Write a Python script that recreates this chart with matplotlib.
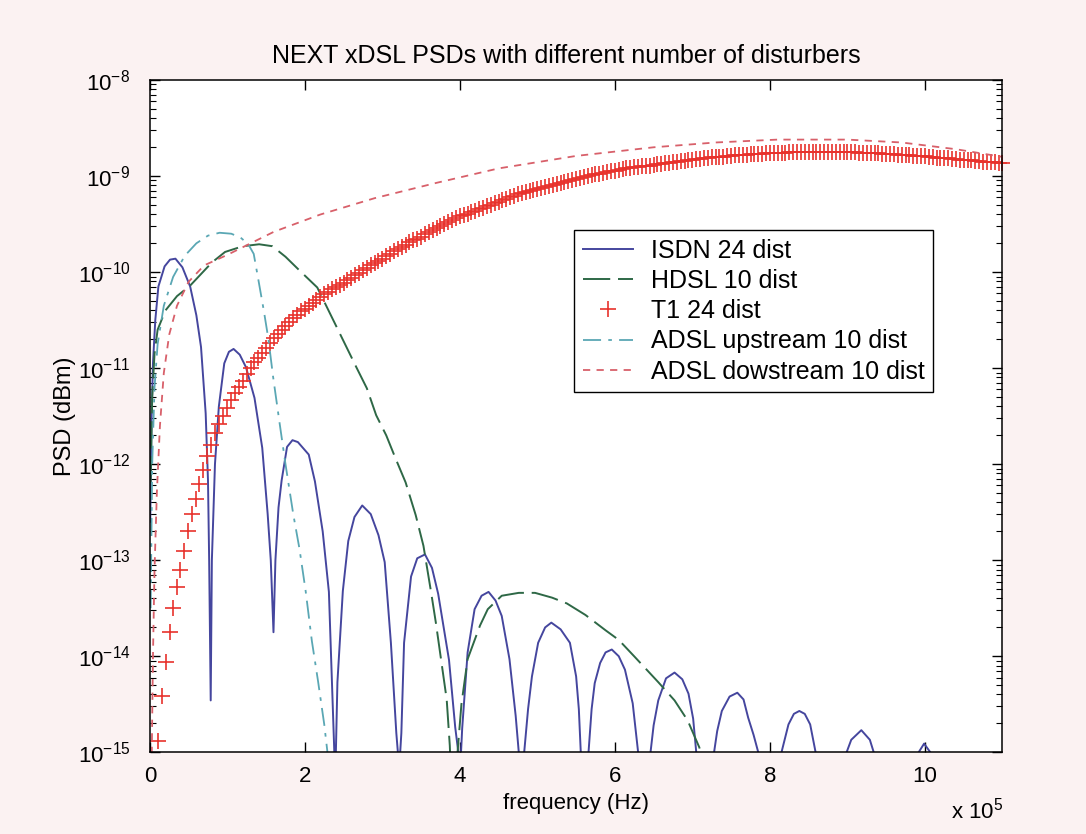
import numpy as np
import matplotlib.pyplot as plt
from matplotlib.ticker import FixedLocator, LogLocator, NullFormatter, LogFormatterMathtext

# frequencies are in units of 1e5 Hz, PSD values are stored as log10 exponents
# ISDN 24 disturbers (blue, solid)
isdn_f = [0.005, 0.02, 0.04, 0.07, 0.11, 0.19, 0.26, 0.33, 0.42, 0.52, 0.60, 0.66, 0.72, 0.75, 0.765, 0.785,
          0.80, 0.84, 0.89, 0.96, 1.02, 1.08, 1.16, 1.24, 1.35, 1.45, 1.52, 1.56, 1.595,
          1.62, 1.66, 1.70, 1.77, 1.84, 1.91, 2.05, 2.13, 2.23, 2.27, 2.31, 2.35, 2.38, 2.39,
          2.40, 2.42, 2.49, 2.56, 2.64, 2.74, 2.85, 2.95, 3.03, 3.11, 3.18, 3.20, 3.215,
          3.23, 3.245, 3.28, 3.37, 3.45, 3.55, 3.64, 3.72, 3.86, 3.94, 3.98, 4.00,
          4.015, 4.03, 4.10, 4.19, 4.28, 4.37, 4.46, 4.54, 4.64, 4.72, 4.76, 4.795,
          4.83, 4.88, 4.93, 5.01, 5.10, 5.18, 5.30, 5.42, 5.50, 5.535, 5.56, 5.60,
          5.66, 5.70, 5.74, 5.81, 5.88, 5.96, 6.05, 6.13, 6.23, 6.30, 6.38,
          6.46, 6.50, 6.56, 6.66, 6.77, 6.87, 6.95, 7.01, 7.05, 7.17,
          7.28, 7.32, 7.38, 7.48, 7.58, 7.66, 7.72, 7.79, 7.85, 8.00,
          8.15, 8.24, 8.31, 8.38, 8.45, 8.52, 8.59, 8.80,
          8.99, 9.05, 9.18, 9.29, 9.34, 9.60,
          9.92, 9.99, 10.07, 10.40, 11.00]
isdn_log = [-12.6, -11.6, -10.95, -10.5, -10.15, -9.94, -9.87, -9.86, -9.95, -10.15, -10.45, -10.78, -11.47, -12.17, -13.0, -14.46,
            -13.0, -12.0, -11.4, -10.95, -10.83, -10.80, -10.86, -10.99, -11.31, -11.83, -12.52, -13.0, -13.75,
            -13.0, -12.45, -12.17, -11.82, -11.75, -11.77, -11.90, -12.18, -12.70, -13.02, -13.33, -14.27, -15.0, -16.0,
            -15.0, -14.27, -13.32, -12.80, -12.55, -12.43, -12.52, -12.74, -13.02, -13.86, -14.80, -15.0, -16.0,
            -15.0, -14.80, -13.86, -13.17, -12.98, -12.94, -13.08, -13.35, -14.04, -14.74, -15.0, -16.0,
            -15.0, -14.75, -13.96, -13.51, -13.37, -13.33, -13.42, -13.58, -14.03, -14.62, -15.0, -16.0,
            -15.0, -14.55, -14.21, -13.86, -13.70, -13.65, -13.72, -13.86, -14.21, -14.55, -15.0, -16.0,
            -15.0, -14.55, -14.28, -14.07, -13.96, -13.93, -14.00, -14.14, -14.49, -15.0, -16.0,
            -15.0, -14.72, -14.46, -14.23, -14.17, -14.24, -14.39, -14.65, -15.0, -16.0,
            -15.0, -14.78, -14.57, -14.42, -14.38, -14.45, -14.64, -14.82, -15.0, -16.0,
            -15.0, -14.71, -14.60, -14.57, -14.60, -14.71, -15.0, -16.0,
            -15.0, -14.87, -14.77, -14.87, -15.0, -16.0,
            -15.0, -14.91, -15.0, -16.0, -16.0]

# HDSL 10 disturbers (dark green, dashed)
hdsl_f = [0.01, 0.03, 0.06, 0.10, 0.20, 0.35, 0.52, 0.80, 0.97, 1.20, 1.41, 1.58, 1.75, 1.94, 2.16, 2.33,
          2.50, 2.67, 2.80, 2.92, 3.05, 3.17, 3.30, 3.43, 3.53, 3.63, 3.69, 3.83, 3.87, 3.92,
          3.97, 4.02, 4.10, 4.26, 4.36, 4.54, 4.76, 4.97, 5.19, 5.38, 5.62, 5.88, 6.05, 6.26,
          6.56, 6.77, 6.94, 7.09, 7.20, 7.84]
hdsl_log = [-12.2, -11.3, -10.85, -10.6, -10.4, -10.25, -10.14, -9.90, -9.79, -9.73, -9.71, -9.73, -9.84, -9.99, -10.16, -10.44,
            -10.72, -11.0, -11.21, -11.49, -11.70, -11.94, -12.19, -12.53, -12.85, -13.34, -13.65, -14.45, -14.93, -16.0,
            -15.0, -14.5, -14.03, -13.68, -13.51, -13.37, -13.34, -13.34, -13.39, -13.45, -13.57, -13.73, -13.83, -14.01,
            -14.27, -14.46, -14.67, -14.95, -15.3, -17.0]

# T1 24 disturbers (red '+')
t1_f = [0.11, 0.16, 0.21, 0.26, 0.30, 0.35, 0.39, 0.44, 0.49, 0.54, 0.59, 0.64, 0.69, 0.74, 0.79, 0.84, 0.89, 0.94,
        1.00, 1.05, 1.10, 1.15, 1.20, 1.25, 1.30, 1.35, 1.40, 1.45, 1.50, 1.55, 1.60, 1.65, 1.70, 1.75, 1.80, 1.85, 1.90, 1.95,
        2.00, 2.05, 2.10, 2.15, 2.20, 2.25, 2.30, 2.35, 2.40, 2.45, 2.50, 2.55, 2.60, 2.65, 2.70, 2.75, 2.80, 2.85, 2.90, 2.95,
        3.00, 3.05, 3.10, 3.15, 3.20, 3.25, 3.30, 3.35, 3.40, 3.45, 3.50, 3.55, 3.60, 3.65, 3.70, 3.75, 3.80, 3.85, 3.90, 3.95,
        4.00, 4.05, 4.10, 4.15, 4.20, 4.25, 4.30, 4.35, 4.40, 4.45, 4.50, 4.55, 4.60, 4.65, 4.70, 4.75, 4.80, 4.85, 4.90, 4.95,
        5.00, 5.05, 5.10, 5.15, 5.20, 5.25, 5.30, 5.35, 5.40, 5.45, 5.50, 5.55, 5.60, 5.65, 5.70, 5.75, 5.80, 5.85, 5.90, 5.95,
        6.00, 6.05, 6.10, 6.15, 6.20, 6.25, 6.30, 6.35, 6.40, 6.45, 6.50, 6.55, 6.60, 6.65, 6.70, 6.75, 6.80, 6.85, 6.90, 6.95,
        7.00, 7.05, 7.10, 7.15, 7.20, 7.25, 7.30, 7.35, 7.40, 7.45, 7.50, 7.55, 7.60, 7.65, 7.70, 7.75, 7.80, 7.85, 7.90, 7.95,
        8.00, 8.05, 8.10, 8.15, 8.20, 8.25, 8.30, 8.35, 8.40, 8.45, 8.50, 8.55, 8.60, 8.65, 8.70, 8.75, 8.80, 8.85, 8.90, 8.95,
        9.00, 9.05, 9.10, 9.15, 9.20, 9.25, 9.30, 9.35, 9.40, 9.45, 9.50, 9.55, 9.60, 9.65, 9.70, 9.75, 9.80, 9.85, 9.90, 9.95,
        10.00, 10.05, 10.10, 10.15, 10.20, 10.25, 10.30, 10.35, 10.40, 10.45, 10.50, 10.55, 10.60, 10.65, 10.70, 10.75,
        10.80, 10.85, 10.90, 10.95, 11.00]
t1_log = [-14.88, -14.41, -14.06, -13.75, -13.50, -13.28, -13.10, -12.90, -12.70, -12.52, -12.36, -12.21, -12.06, -11.92,
          -11.80, -11.68, -11.58, -11.50,
          -11.41, -11.33, -11.26, -11.20, -11.13, -11.06, -11.00, -10.94, -10.89, -10.84, -10.79, -10.74, -10.69, -10.64,
          -10.60, -10.56, -10.52, -10.48, -10.45, -10.41,
          -10.38, -10.35, -10.32, -10.29, -10.26, -10.23, -10.21, -10.18, -10.16, -10.13, -10.11, -10.08, -10.06, -10.03,
          -10.01, -9.98, -9.96, -9.93, -9.91, -9.88,
          -9.86, -9.83, -9.81, -9.78, -9.76, -9.74, -9.72, -9.69, -9.67, -9.65, -9.63, -9.60, -9.58, -9.56, -9.54, -9.52,
          -9.50, -9.48, -9.46, -9.44,
          -9.42, -9.40, -9.39, -9.37, -9.36, -9.34, -9.33, -9.31, -9.30, -9.28, -9.27, -9.25, -9.24, -9.22, -9.21, -9.19,
          -9.18, -9.17, -9.16, -9.14,
          -9.13, -9.12, -9.11, -9.10, -9.09, -9.08, -9.07, -9.06, -9.05, -9.04, -9.03, -9.02, -9.01, -9.00, -8.99, -8.98,
          -8.98, -8.97, -8.96, -8.95,
          -8.95, -8.94, -8.93, -8.92, -8.92, -8.91, -8.91, -8.90, -8.89, -8.89, -8.88, -8.87, -8.87, -8.86, -8.86, -8.85,
          -8.85, -8.84, -8.84, -8.83,
          -8.83, -8.82, -8.82, -8.81, -8.81, -8.80, -8.80, -8.80, -8.80, -8.79, -8.79, -8.78, -8.78, -8.78, -8.78, -8.77,
          -8.77, -8.77, -8.77, -8.76,
          -8.76, -8.76, -8.76, -8.76, -8.76, -8.75, -8.75, -8.75, -8.75, -8.75, -8.75, -8.75, -8.75, -8.75, -8.75, -8.75,
          -8.75, -8.75, -8.75, -8.75,
          -8.75, -8.75, -8.75, -8.76, -8.76, -8.76, -8.76, -8.76, -8.76, -8.77, -8.77, -8.77, -8.77, -8.78, -8.78, -8.78,
          -8.78, -8.79, -8.79, -8.79,
          -8.79, -8.80, -8.80, -8.81, -8.81, -8.81, -8.81, -8.82, -8.82, -8.83, -8.83, -8.83, -8.83, -8.84, -8.84, -8.85,
          -8.85, -8.85, -8.85, -8.86, -8.86]

# ADSL upstream 10 disturbers (cyan, dash-dot)
adslu_f = [0.01, 0.03, 0.06, 0.10, 0.18, 0.30, 0.45, 0.60, 0.75, 0.90, 1.05, 1.17, 1.27, 1.34, 1.40, 1.47, 1.53,
           1.59, 1.67, 1.75, 1.85, 1.93, 2.01, 2.09, 2.17, 2.25, 2.29, 2.35]
adslu_log = [-13.5, -12.0, -11.2, -10.75, -10.35, -10.05, -9.83, -9.70, -9.62, -9.59, -9.60, -9.64, -9.71, -9.81, -10.08,
             -10.40, -10.70, -11.09, -11.55, -12.00, -12.52, -12.88, -13.32, -13.84, -14.26, -14.71, -14.99, -15.5]

# ADSL downstream 10 disturbers (red, dotted)
adsld_f = [0.02, 0.04, 0.06, 0.09, 0.13, 0.18, 0.25, 0.35, 0.50, 0.70, 1.0, 1.3, 1.6, 2.2, 2.9, 3.7, 4.5, 5.5, 6.5,
           7.3, 8.1, 9.0, 9.7, 10.4, 11.0]
adsld_log = [-15.3, -14.0, -13.1, -12.3, -11.6, -11.05, -10.65, -10.35, -10.10, -9.93, -9.82, -9.70, -9.58, -9.40, -9.23,
             -9.07, -8.92, -8.79, -8.70, -8.65, -8.62, -8.62, -8.65, -8.72, -8.80]

labels = ['ISDN 24 dist', 'HDSL 10 dist', 'T1 24 dist', 'ADSL upstream 10 dist', 'ADSL dowstream 10 dist']
y_decades = [1e-15, 1e-14, 1e-13, 1e-12, 1e-11, 1e-10, 1e-9, 1e-8]

plt.rcParams['font.family'] = ['Liberation Sans', 'DejaVu Sans']
plt.rcParams['mathtext.default'] = 'regular'
plt.rcParams['font.size'] = 16

fig = plt.figure(figsize=(10.86, 8.34), dpi=100, facecolor='#fbf2f2')
ax = fig.add_axes([0.138, 0.098, 0.785, 0.806])
ax.set_facecolor('white')

ax.plot(isdn_f, 10.0 ** np.array(isdn_log), color='#45469e', lw=1.4, label=labels[0])
ax.plot(hdsl_f, 10.0 ** np.array(hdsl_log), color='#2e6846', lw=1.4, dashes=(14, 4), label=labels[1])
ax.plot(t1_f, 10.0 ** np.array(t1_log), ls='none', marker='+', ms=11, mew=1.2, color='#e8322c',
        label=labels[2], clip_on=False)
ax.plot(adslu_f, 10.0 ** np.array(adslu_log), color='#5aa7b4', lw=1.3, dashes=(10, 4, 2, 4), label=labels[3])
ax.plot(adsld_f, 10.0 ** np.array(adsld_log), color='#d8606a', lw=1.3, dashes=(4, 3.5), label=labels[4])

ax.set_yscale('log')
ax.set_xlim(0, 11)
ax.set_ylim(1e-15, 1e-8)
ax.xaxis.set_major_locator(FixedLocator([0, 2, 4, 6, 8, 10]))
ax.yaxis.set_major_locator(FixedLocator(y_decades))
ax.yaxis.set_major_formatter(LogFormatterMathtext())
ax.yaxis.set_minor_locator(LogLocator(base=10, subs=np.arange(2, 10), numticks=20))
ax.yaxis.set_minor_formatter(NullFormatter())
ax.tick_params(which='both', direction='in', top=True, right=True, labelsize=16)
ax.tick_params(which='major', length=7, width=1, pad=10)
ax.tick_params(axis='y', which='major', pad=14)
ax.tick_params(which='minor', length=4, width=0.8)
for s in ax.spines.values():
    s.set_linewidth(1.1)

ax.set_title('NEXT xDSL PSDs with different number of disturbers', fontsize=18, pad=12, x=0.488)
ax.set_xlabel('frequency (Hz)', fontsize=16, labelpad=4)
ax.set_ylabel('PSD (dBm)', fontsize=17, labelpad=1)
fig.text(0.9236, 0.012, r'x 10$^5$', ha='right', va='bottom', fontsize=16)

leg = ax.legend(loc='upper left', bbox_to_anchor=(0.498, 0.777), fontsize=18, frameon=True, fancybox=False,
                edgecolor='black', framealpha=1, handlelength=2.0, handletextpad=0.7, labelspacing=0.25,
                borderpad=0.35, borderaxespad=0)
leg.get_frame().set_linewidth(1.0)

fig.savefig('out.png', dpi=100, facecolor=fig.get_facecolor())
